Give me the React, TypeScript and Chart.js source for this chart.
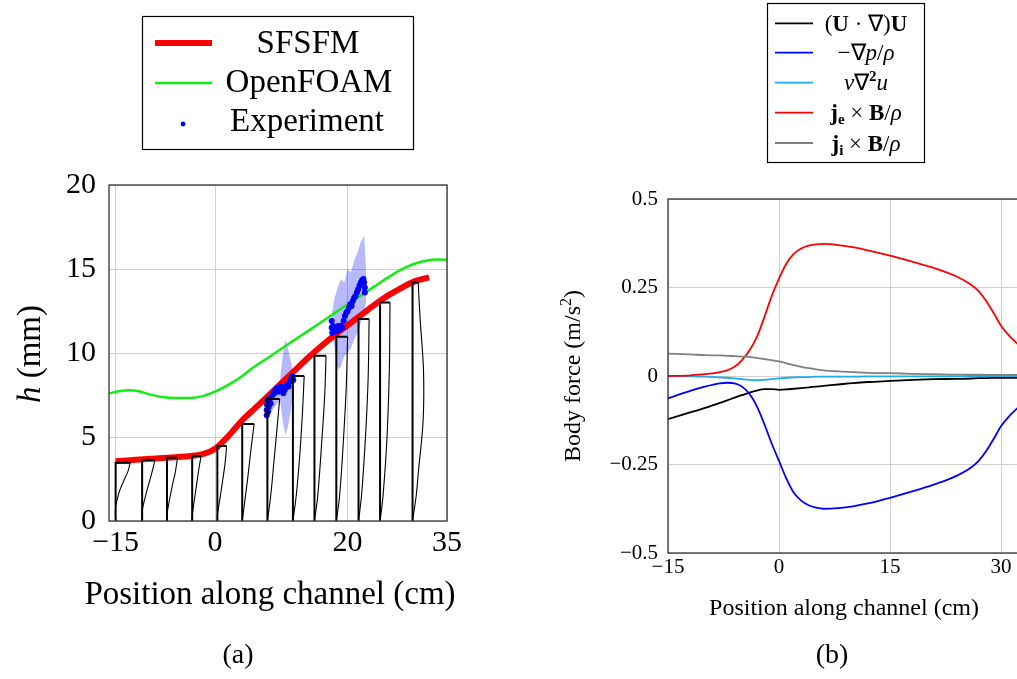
import React, { useEffect, useRef } from 'react';
import { Chart, registerables } from 'chart.js';
Chart.register(...registerables);

const SERIF = '"Liberation Serif", "Times New Roman", serif';

// ---------- (a) free-surface height ----------
const xTicksA = [-15, 0, 20, 35];
const yTicksA = [0, 5, 10, 15, 20];

const sfsfmX = [-15, -12, -9, -6, -3, -1.5, 0, 1, 2, 3, 4, 6, 8, 10, 12, 14, 16, 18, 20, 22, 24, 26, 28, 30, 32.3];
const sfsfmY = [3.55, 3.65, 3.72, 3.8, 3.9, 4.02, 4.3, 4.65, 5.05, 5.5, 5.95, 6.7, 7.45, 8.2, 8.95, 9.7, 10.4, 11.05, 11.65, 12.25, 12.85, 13.4, 13.85, 14.25, 14.5];

const foamX = [-16, -14.5, -13, -11.5, -10, -8, -6, -4, -2, 0, 2, 4, 5.3, 6, 8, 10, 12, 14, 16, 18, 20, 22, 24, 26, 28, 30, 32, 33.5, 35];
const foamY = [7.6, 7.72, 7.78, 7.72, 7.55, 7.38, 7.32, 7.32, 7.42, 7.7, 8.1, 8.6, 9.0, 9.2, 9.72, 10.25, 10.78, 11.3, 11.83, 12.36, 12.9, 13.42, 13.95, 14.47, 14.95, 15.3, 15.5, 15.56, 15.55];

const expX = [7.8, 7.8, 7.85, 7.9, 8.0, 8.1, 8.2, 8.3, 8.4, 8.5, 8.7, 8.9, 9.1, 9.3, 9.5, 9.7, 9.9, 10.1, 10.3, 10.5, 10.7, 10.9, 11.1, 11.3, 11.5, 11.7, 11.8,
  17.6, 17.6, 17.7, 17.8, 18.0, 18.2, 18.4, 18.6, 18.8, 19.0, 19.2, 19.4, 19.6, 19.8, 20.0, 20.2, 20.4, 20.6, 20.8, 21.0, 21.2, 21.4, 21.6, 21.8, 22.0, 22.2, 22.4, 22.5, 22.6, 22.6];
const expY = [6.3, 6.6, 6.9, 7.2, 6.5, 6.8, 7.1, 7.3, 7.0, 7.4, 7.5, 7.6, 7.8, 7.9, 7.7, 7.9, 8.0, 7.8, 7.6, 7.8, 8.0, 8.1, 8.0, 8.3, 8.5, 8.6, 8.4,
  11.9, 11.5, 11.2, 11.6, 11.3, 11.5, 11.3, 11.6, 11.4, 11.6, 11.5, 11.9, 12.2, 12.4, 12.5, 12.7, 12.9, 12.8, 13.1, 13.3, 13.4, 13.6, 13.8, 14.0, 14.2, 14.35, 14.4, 14.2, 13.9, 13.6];

const band1X = [7.8, 8.5, 9.2, 9.8, 10.2, 10.6, 11.0, 11.4, 11.8];
const band1Up = [7.4, 7.7, 8.0, 8.4, 9.8, 10.8, 10.3, 9.6, 8.8];
const band1Lo = [6.2, 6.5, 6.9, 7.2, 6.0, 5.1, 5.6, 6.5, 7.8];

const band2X = [17.6, 18.0, 18.5, 19.0, 19.5, 20.0, 20.5, 21.0, 21.5, 22.0, 22.5, 22.8];
const band2Up = [12.3, 13.2, 13.9, 14.4, 14.2, 15.0, 14.8, 15.5, 16.0, 16.6, 17.0, 14.8];
const band2Lo = [11.0, 10.4, 9.0, 9.2, 9.8, 10.0, 10.3, 10.8, 11.2, 11.8, 12.5, 13.0];

// velocity profiles: station position, free-surface height, profile points [offset cm, z mm]
const profX = [-15, -11, -7.25, -3.45, 0.35, 4.1, 7.9, 11.75, 15.0, 18.3, 21.65, 24.9, 29.8];
const profH = [3.47, 3.63, 3.77, 3.87, 4.46, 5.77, 7.26, 8.63, 9.84, 10.97, 12.02, 13.0, 14.2];
const profCurves: number[][][] = [
  [[0, 0], [0, 0.85], [0.65, 1.85], [1.4, 2.55], [1.9, 3.0], [2.2, 3.47]],
  [[0, 0], [0, 0.6], [0.75, 1.85], [1.25, 2.55], [1.75, 3.33], [1.9, 3.63]],
  [[0, 0], [0, 0.4], [0.75, 2.0], [1.25, 2.9], [1.6, 3.77]],
  [[0, 0], [0, 0.3], [0.7, 2.25], [1.05, 3.2], [1.35, 3.87]],
  [[0, 0], [0, 0.3], [0.65, 2.0], [1.15, 3.4], [1.4, 4.46]],
  [[0, 0], [0.8, 2.45], [1.3, 4.2], [1.8, 5.77]],
  [[0, 0], [0.5, 1.5], [1.0, 3.6], [1.45, 5.5], [1.85, 7.26]],
  [[0, 0], [0.5, 1.5], [1.05, 4.0], [1.45, 6.5], [1.7, 8.63]],
  [[0, 0], [0.5, 1.5], [1.15, 5.0], [1.55, 7.5], [1.75, 9.84]],
  [[0, 0], [0.5, 1.5], [1.1, 5.0], [1.5, 8.0], [1.7, 10.97]],
  [[0, 0], [0.45, 1.5], [1.05, 5.0], [1.45, 8.5], [1.6, 12.02]],
  [[0, 0], [0.45, 1.5], [1.05, 5.0], [1.4, 9.0], [1.5, 13.0]],
  [[0, 0], [0.55, 1.5], [0.9, 3.0], [1.6, 6.0], [1.65, 9.0], [1.15, 12.0], [0.85, 14.2]],
];

// ---------- (b) body forces ----------
const forceX = [-15, -12, -10, -8, -7, -6, -5, -4, -3, -2, -1, 0, 1, 2, 3, 4, 5, 6, 8, 10, 12, 15, 18, 21, 24, 26, 27, 28, 29, 30, 31, 32, 33];
const advection = [-0.122, -0.103, -0.09, -0.076, -0.069, -0.061, -0.054, -0.047, -0.041, -0.037, -0.037, -0.039, -0.038, -0.036, -0.034, -0.032, -0.03, -0.028, -0.024, -0.02, -0.017, -0.014, -0.011, -0.009, -0.008, -0.007, -0.006, -0.006, -0.005, -0.005, -0.005, -0.005, -0.005];
const pressure = [-0.063, -0.042, -0.03, -0.021, -0.019, -0.021, -0.03, -0.05, -0.085, -0.135, -0.19, -0.24, -0.29, -0.33, -0.352, -0.365, -0.372, -0.375, -0.373, -0.368, -0.36, -0.344, -0.326, -0.306, -0.282, -0.258, -0.239, -0.212, -0.178, -0.142, -0.116, -0.095, -0.078];
const viscous = [0, -0.001, -0.002, -0.004, -0.005, -0.007, -0.009, -0.011, -0.012, -0.011, -0.009, -0.007, -0.005, -0.004, -0.003, -0.003, -0.002, -0.002, -0.002, -0.002, -0.001, -0.001, -0.001, -0.001, -0.001, 0, 0, 0, 0, 0, 0, 0, 0];
const lorentzExt = [0, 0.002, 0.005, 0.011, 0.016, 0.026, 0.045, 0.072, 0.11, 0.165, 0.225, 0.275, 0.318, 0.345, 0.36, 0.368, 0.372, 0.373, 0.37, 0.364, 0.355, 0.34, 0.323, 0.305, 0.281, 0.257, 0.239, 0.212, 0.178, 0.142, 0.116, 0.095, 0.078];
const lorentzInd = [0.063, 0.061, 0.059, 0.058, 0.057, 0.056, 0.055, 0.054, 0.051, 0.048, 0.045, 0.041, 0.036, 0.031, 0.026, 0.022, 0.019, 0.016, 0.013, 0.011, 0.009, 0.008, 0.006, 0.005, 0.004, 0.004, 0.004, 0.003, 0.003, 0.003, 0.003, 0.003, 0.003];
const xTicksB = [-15, 0, 15, 30];
const yTicksB = [-0.5, -0.25, 0, 0.25, 0.5];

const pts = (xs: number[], ys: number[]) => xs.map((x, i) => ({ x, y: ys[i] }));
const minus = (v: number) => String(v).replace('-', '\u2212');

type Run = { t: string; f: string; dy?: number };
function drawRuns(ctx: CanvasRenderingContext2D, runs: Run[], x: number, y: number, align: 'left' | 'center') {
  let w = 0;
  for (const r of runs) { ctx.font = r.f; w += ctx.measureText(r.t).width; }
  let cx = align === 'center' ? x - w / 2 : x;
  ctx.textAlign = 'left';
  for (const r of runs) {
    ctx.font = r.f;
    ctx.fillText(r.t, cx, y + (r.dy || 0));
    cx += ctx.measureText(r.t).width;
  }
}

function frame(chart: any) {
  const { ctx, chartArea: a } = chart;
  ctx.save();
  ctx.strokeStyle = '#333';
  ctx.lineWidth = 1.3;
  ctx.strokeRect(a.left, a.top, a.right - a.left, a.bottom - a.top);
  ctx.restore();
}

const overlayA = {
  id: 'overlayA',
  afterDraw(chart: any) {
    const ctx = chart.ctx as CanvasRenderingContext2D;
    frame(chart);
    ctx.save();
    ctx.fillStyle = '#000';
    ctx.textBaseline = 'alphabetic';
    // legend
    ctx.strokeStyle = '#000';
    ctx.lineWidth = 1.2;
    ctx.strokeRect(142.5, 16.5, 271, 133);
    ctx.lineCap = 'butt';
    ctx.strokeStyle = '#ff0000'; ctx.lineWidth = 6;
    ctx.beginPath(); ctx.moveTo(155, 43); ctx.lineTo(212, 43); ctx.stroke();
    ctx.strokeStyle = '#11ee11'; ctx.lineWidth = 2.5;
    ctx.beginPath(); ctx.moveTo(155, 83); ctx.lineTo(212, 83); ctx.stroke();
    ctx.fillStyle = '#0000ff';
    ctx.beginPath(); ctx.arc(183, 124, 2.4, 0, Math.PI * 2); ctx.fill();
    ctx.fillStyle = '#000';
    const LF = `33px ${SERIF}`;
    drawRuns(ctx, [{ t: 'SFSFM', f: LF }], 308, 53, 'center');
    drawRuns(ctx, [{ t: 'OpenFOAM', f: LF }], 309, 92, 'center');
    drawRuns(ctx, [{ t: 'Experiment', f: LF }], 307, 131, 'center');
    // axis titles
    drawRuns(ctx, [{ t: 'Position along channel (cm)', f: `33px ${SERIF}` }], 270, 604, 'center');
    ctx.save();
    ctx.translate(40, 354);
    ctx.rotate(-Math.PI / 2);
    drawRuns(ctx, [{ t: 'h', f: `italic 33px ${SERIF}` }, { t: ' (mm)', f: `33px ${SERIF}` }], 0, 0, 'center');
    ctx.restore();
    drawRuns(ctx, [{ t: '(a)', f: `28px ${SERIF}` }], 238, 663, 'center');
    ctx.restore();
  },
};

const overlayB = {
  id: 'overlayB',
  afterDraw(chart: any) {
    const ctx = chart.ctx as CanvasRenderingContext2D;
    frame(chart);
    ctx.save();
    ctx.textBaseline = 'alphabetic';
    ctx.strokeStyle = '#000';
    ctx.lineWidth = 1.2;
    ctx.strokeRect(247.5, 3.5, 157, 159);
    const R = `23px ${SERIF}`, B = `bold 23px ${SERIF}`, I = `italic 23px ${SERIF}`, SB = `bold 15px ${SERIF}`;
    const rows: { c: string; runs: Run[] }[] = [
      { c: '#000000', runs: [{ t: '(', f: R }, { t: 'U', f: B }, { t: ' · ∇)', f: R }, { t: 'U', f: B }] },
      { c: '#0000ff', runs: [{ t: '−∇', f: R }, { t: 'p', f: I }, { t: '/', f: R }, { t: 'ρ', f: I }] },
      { c: '#22aaee', runs: [{ t: 'ν', f: I }, { t: '∇', f: R }, { t: '2', f: SB, dy: -9 }, { t: 'u', f: I }] },
      { c: '#ff0000', runs: [{ t: 'j', f: B }, { t: 'e', f: SB, dy: 4 }, { t: ' × ', f: R }, { t: 'B', f: B }, { t: '/', f: R }, { t: 'ρ', f: I }] },
      { c: '#808080', runs: [{ t: 'j', f: B }, { t: 'i', f: SB, dy: 4 }, { t: ' × ', f: R }, { t: 'B', f: B }, { t: '/', f: R }, { t: 'ρ', f: I }] },
    ];
    const rowY = [23.3, 52.7, 82.7, 112.7, 143];
    rows.forEach((r, i) => {
      ctx.strokeStyle = r.c; ctx.lineWidth = 1.8;
      ctx.beginPath(); ctx.moveTo(255, rowY[i]); ctx.lineTo(293, rowY[i]); ctx.stroke();
      ctx.fillStyle = '#000';
      drawRuns(ctx, r.runs, 346, rowY[i] + 7.5, 'center');
    });
    ctx.fillStyle = '#000';
    drawRuns(ctx, [{ t: 'Position along channel (cm)', f: `24px ${SERIF}` }], 324, 615, 'center');
    ctx.save();
    ctx.translate(60, 376);
    ctx.rotate(-Math.PI / 2);
    drawRuns(ctx, [{ t: 'Body force (m/s', f: `24px ${SERIF}` }, { t: '2', f: `16px ${SERIF}`, dy: -9 }, { t: ')', f: `24px ${SERIF}` }], 0, 0, 'center');
    ctx.restore();
    drawRuns(ctx, [{ t: '(b)', f: `28px ${SERIF}` }], 312, 663, 'center');
    ctx.restore();
  },
};

function buildA() {
  const frameData: any[] = [];
  const curveData: any[] = [];
  profX.forEach((x0, i) => {
    const c = profCurves[i];
    const w = c[c.length - 1][0];
    frameData.push({ x: x0, y: 0 }, { x: x0, y: profH[i] }, { x: x0 + w, y: profH[i] }, { x: x0 + w, y: null });
    c.forEach(([du, z]) => curveData.push({ x: x0 + du, y: z }));
    curveData.push({ x: x0, y: null });
  });
  const bandFill = 'rgba(0,0,255,0.28)';
  return {
    type: 'line',
    data: {
      datasets: [
        { data: frameData, borderColor: '#000', borderWidth: 2, pointRadius: 0, tension: 0, spanGaps: false },
        { data: curveData, borderColor: '#000', borderWidth: 1.1, pointRadius: 0, tension: 0.35, spanGaps: false },
        { type: 'scatter', data: pts(expX, expY), showLine: false, pointRadius: 3, pointBackgroundColor: '#0000ff', pointBorderWidth: 0, borderColor: '#0000ff' },
        { data: pts(sfsfmX, sfsfmY), borderColor: '#ff0000', borderWidth: 6, pointRadius: 0, cubicInterpolationMode: 'monotone' },
        { data: pts(foamX, foamY), borderColor: '#11ee11', borderWidth: 2.5, pointRadius: 0, cubicInterpolationMode: 'monotone' },
        { data: pts(band1X, band1Lo), borderWidth: 0, pointRadius: 0, fill: '+1', backgroundColor: bandFill, borderColor: 'rgba(0,0,0,0)' },
        { data: pts(band1X, band1Up), borderWidth: 0, pointRadius: 0, borderColor: 'rgba(0,0,0,0)' },
        { data: pts(band2X, band2Lo), borderWidth: 0, pointRadius: 0, fill: '+1', backgroundColor: bandFill, borderColor: 'rgba(0,0,0,0)' },
        { data: pts(band2X, band2Up), borderWidth: 0, pointRadius: 0, borderColor: 'rgba(0,0,0,0)' },
      ],
    },
    options: {
      responsive: false,
      animation: false,
      events: [],
      layout: { padding: { left: 0, top: 185, right: 53, bottom: 108 } },
      plugins: { legend: { display: false }, tooltip: { enabled: false } },
      scales: {
        x: {
          type: 'linear', min: -16, max: 35,
          afterBuildTicks: (s: any) => { s.ticks = xTicksA.map((v) => ({ value: v })); },
          afterFit: (s: any) => { s.height = 50; },
          grid: { color: '#d0d0d0', lineWidth: 1, drawTicks: false },
          border: { display: false },
          ticks: { color: '#000', font: { family: SERIF, size: 30 }, padding: 4, maxRotation: 0, autoSkip: false, callback: (v: any) => minus(v) },
        },
        y: {
          type: 'linear', min: 0, max: 20,
          afterBuildTicks: (s: any) => { s.ticks = yTicksA.map((v) => ({ value: v })); },
          afterFit: (s: any) => { s.width = 109; },
          grid: { color: '#d0d0d0', lineWidth: 1, drawTicks: false },
          border: { display: false },
          ticks: { color: '#000', font: { family: SERIF, size: 30 }, padding: 13, autoSkip: false, callback: (v: any) => minus(v) },
        },
      },
    },
    plugins: [overlayA],
  };
}

function buildB() {
  const line = (ys: number[], c: string) => ({ data: pts(forceX, ys), borderColor: c, borderWidth: 1.8, pointRadius: 0, cubicInterpolationMode: 'monotone' });
  return {
    type: 'line',
    data: {
      datasets: [
        line(lorentzInd, '#808080'),
        line(lorentzExt, '#ff0000'),
        line(viscous, '#22aaee'),
        line(pressure, '#0000ff'),
        line(advection, '#000000'),
      ],
    },
    options: {
      responsive: false,
      animation: false,
      events: [],
      layout: { padding: { left: 0, top: 199, right: 62, bottom: 86 } },
      plugins: { legend: { display: false }, tooltip: { enabled: false } },
      scales: {
        x: {
          type: 'linear', min: -15, max: 35,
          afterBuildTicks: (s: any) => { s.ticks = xTicksB.map((v) => ({ value: v })); },
          afterFit: (s: any) => { s.height = 40; },
          grid: { color: '#d0d0d0', lineWidth: 1, drawTicks: false },
          border: { display: false },
          ticks: { color: '#000', font: { family: SERIF, size: 21 }, padding: 2, maxRotation: 0, autoSkip: false, callback: (v: any) => minus(v) },
        },
        y: {
          type: 'linear', min: -0.5, max: 0.5,
          afterBuildTicks: (s: any) => { s.ticks = yTicksB.map((v) => ({ value: v })); },
          afterFit: (s: any) => { s.width = 148; },
          grid: { color: '#d0d0d0', lineWidth: 1, drawTicks: false },
          border: { display: false },
          ticks: { color: '#000', font: { family: SERIF, size: 21 }, padding: 10, autoSkip: false, callback: (v: any) => minus(v) },
        },
      },
    },
    plugins: [overlayB],
  };
}

export default function App() {
  const refA = useRef<HTMLCanvasElement>(null);
  const refB = useRef<HTMLCanvasElement>(null);
  useEffect(() => {
    const a = new Chart(refA.current as HTMLCanvasElement, buildA() as any);
    const b = new Chart(refB.current as HTMLCanvasElement, buildB() as any);
    return () => { a.destroy(); b.destroy(); };
  }, []);
  return (
    <div style={{ position: 'fixed', left: 0, top: 0, width: 1017, height: 679, overflow: 'hidden', background: '#fff' }}>
      <canvas ref={refA} width={500} height={679} style={{ position: 'absolute', left: 0, top: 0, width: 500, height: 679, display: 'block' }} />
      <canvas ref={refB} width={580} height={679} style={{ position: 'absolute', left: 520, top: 0, width: 580, height: 679, display: 'block' }} />
    </div>
  );
}
